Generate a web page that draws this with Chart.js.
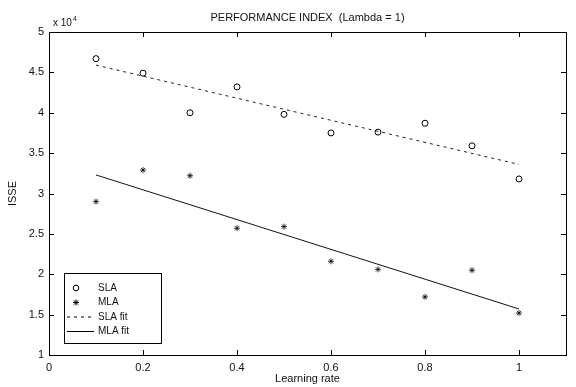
<!DOCTYPE html>
<html>
<head>
<meta charset="utf-8">
<script src="https://cdn.jsdelivr.net/npm/chart.js@4.4.0/dist/chart.umd.min.js"></script>
<style>
  html, body { margin: 0; padding: 0; background: #fff; }
  #wrap { width: 576px; height: 387px; }
</style>
</head>
<body>
<div id="wrap"><canvas id="chart" width="576" height="387"></canvas></div>
<script>
// learning rates tested
const rates = [0.1, 0.2, 0.3, 0.4, 0.5, 0.6, 0.7, 0.8, 0.9, 1.0];
// ISSE values, in units of 10^4
const slaIsse = [4.67, 4.49, 4.0, 4.32, 3.98, 3.75, 3.76, 3.87, 3.59, 3.18];
const mlaIsse = [2.9, 3.29, 3.22, 2.57, 2.59, 2.16, 2.06, 1.72, 2.05, 1.52];
// fitted lines (end points)
const fitRates = [0.1, 1.0];
const slaFit = [4.59, 3.36];
const mlaFit = [3.23, 1.57];

const xTicks = [0, 0.2, 0.4, 0.6, 0.8, 1];
const yTicks = [1, 1.5, 2, 2.5, 3, 3.5, 4, 4.5, 5];

const FONT = "'Liberation Sans', Arial, sans-serif";
const INK = "#111";

const toPoints = (xs, ys) => xs.map((x, i) => ({ x: x, y: ys[i] }));

// box round the axes, inward ticks, the x10^4 note and the legend
const framePlugin = {
  id: "frame",
  afterDatasetsDraw(chart) {
    const { ctx, chartArea: a, scales } = chart;
    ctx.save();
    ctx.strokeStyle = "#000";
    ctx.lineWidth = 1;
    ctx.strokeRect(a.left + 0.5, a.top + 0.5, a.right - a.left, a.bottom - a.top);

    ctx.beginPath();
    xTicks.forEach((v) => {
      const px = Math.round(scales.x.getPixelForValue(v)) + 0.5;
      ctx.moveTo(px, a.bottom);
      ctx.lineTo(px, a.bottom - 5);
      ctx.moveTo(px, a.top);
      ctx.lineTo(px, a.top + 5);
    });
    yTicks.forEach((v) => {
      const py = Math.round(scales.y.getPixelForValue(v)) + 0.5;
      ctx.moveTo(a.left, py);
      ctx.lineTo(a.left + 5, py);
      ctx.moveTo(a.right, py);
      ctx.lineTo(a.right - 5, py);
    });
    ctx.stroke();

    // exponent note
    ctx.fillStyle = INK;
    ctx.font = "10px " + FONT;
    ctx.textBaseline = "alphabetic";
    ctx.textAlign = "left";
    ctx.fillText("x 10", a.left + 4, a.top - 6);
    ctx.font = "7px " + FONT;
    ctx.fillText("4", a.left + 24, a.top - 11);

    // legend
    const box = { x: 64, y: 273, w: 97, h: 70 };
    ctx.fillStyle = "#fff";
    ctx.fillRect(box.x, box.y, box.w, box.h);
    ctx.strokeRect(box.x + 0.5, box.y + 0.5, box.w, box.h);
    const rows = [288, 302.5, 317, 331.5];
    const names = ["SLA", "MLA", "SLA fit", "MLA fit"];
    ctx.font = "10px " + FONT;
    ctx.textBaseline = "middle";
    ctx.fillStyle = INK;
    names.forEach((n, i) => ctx.fillText(n, 98, rows[i]));

    ctx.beginPath();
    ctx.arc(76, rows[0], 2.8, 0, Math.PI * 2);
    ctx.stroke();
    Chart.helpers.drawPoint(ctx, { pointStyle: "star", radius: 3, borderWidth: 0.8 }, 76, rows[1]);

    ctx.beginPath();
    ctx.setLineDash([3, 4]);
    ctx.moveTo(67, rows[2]);
    ctx.lineTo(94, rows[2]);
    ctx.stroke();
    ctx.setLineDash([]);
    ctx.beginPath();
    ctx.moveTo(67, rows[3]);
    ctx.lineTo(94, rows[3]);
    ctx.stroke();
    ctx.restore();
  },
};

new Chart(document.getElementById("chart"), {
  type: "scatter",
  data: {
    datasets: [
      {
        label: "SLA",
        data: toPoints(rates, slaIsse),
        pointStyle: "circle",
        pointRadius: 3,
        borderColor: "#000",
        backgroundColor: "rgba(0,0,0,0)",
        borderWidth: 1,
      },
      {
        label: "MLA",
        data: toPoints(rates, mlaIsse),
        pointStyle: "star",
        pointRadius: 3,
        borderColor: "#000",
        backgroundColor: "#000",
        borderWidth: 0.8,
      },
      {
        label: "SLA fit",
        data: toPoints(fitRates, slaFit),
        showLine: true,
        pointRadius: 0,
        borderColor: "#222",
        borderWidth: 1,
        borderDash: [3, 4],
      },
      {
        label: "MLA fit",
        data: toPoints(fitRates, mlaFit),
        showLine: true,
        pointRadius: 0,
        borderColor: "#111",
        borderWidth: 1,
      },
    ],
  },
  options: {
    responsive: false,
    animation: false,
    layout: { padding: { top: 0, right: 10, bottom: 0, left: 0 } },
    plugins: {
      legend: { display: false },
      tooltip: { enabled: false },
      title: {
        display: true,
        fullSize: false,
        text: "PERFORMANCE INDEX  (Lambda = 1)",
        color: INK,
        font: { family: FONT, size: 11, weight: "normal" },
        padding: { top: 11, bottom: 7.8 },
      },
    },
    scales: {
      x: {
        type: "linear",
        min: 0,
        max: 1.1,
        afterBuildTicks: (s) => { s.ticks = xTicks.map((v) => ({ value: v })); },
        afterFit: (s) => { s.height = 32; },
        grid: { display: false, drawTicks: false },
        border: { display: false },
        ticks: {
          color: INK,
          padding: 6,
          maxRotation: 0,
          font: { family: FONT, size: 11 },
          callback: (v) => String(v),
        },
        title: {
          display: true,
          text: "Learning rate",
          color: INK,
          font: { family: FONT, size: 11 },
          padding: { top: 0, bottom: 1.5 },
        },
      },
      y: {
        type: "linear",
        min: 1,
        max: 5,
        afterBuildTicks: (s) => { s.ticks = yTicks.map((v) => ({ value: v })); },
        afterFit: (s) => { s.width = 49; },
        grid: { display: false, drawTicks: false },
        border: { display: false },
        ticks: {
          color: INK,
          padding: 5,
          font: { family: FONT, size: 11 },
          callback: (v) => String(v),
        },
        title: {
          display: true,
          text: "ISSE",
          color: INK,
          font: { family: FONT, size: 11 },
          padding: { top: 6.4, bottom: 0 },
        },
      },
    },
  },
  plugins: [framePlugin],
});
</script>
</body>
</html>
